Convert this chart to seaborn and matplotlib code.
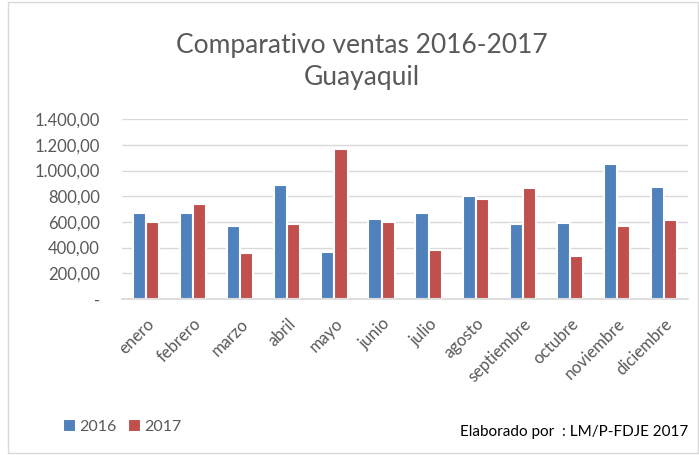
import matplotlib.pyplot as plt
import matplotlib.ticker as mticker
import pandas as pd
import seaborn as sns

meses = ["enero", "febrero", "marzo", "abril", "mayo", "junio", "julio",
         "agosto", "septiembre", "octubre", "noviembre", "diciembre"]
ventas_2016 = [673, 673, 569, 886, 366, 626, 673, 802, 580, 590, 1052, 872]
ventas_2017 = [603, 743, 356, 580, 1168, 603, 379, 779, 862, 333, 569, 615]

frame = pd.DataFrame({
    "mes": meses * 2,
    "ventas": ventas_2016 + ventas_2017,
    "anio": ["2016"] * 12 + ["2017"] * 12,
})


def miles(value, _pos):
    if value == 0:
        return "-"
    text = f"{value:,.2f}"
    return text.replace(",", "X").replace(".", ",").replace("X", ".")


sns.set_theme(style="white")
plt.rcParams["font.family"] = ["Lato", "DejaVu Sans"]

fig = plt.figure(figsize=(6.99, 4.55), dpi=100)
ax = fig.add_axes([0.175, 0.343, 0.809, 0.395])

sns.barplot(
    data=frame, x="mes", y="ventas", hue="anio",
    palette=["#4F81BD", "#C0504D"], width=0.56, saturation=1,
    edgecolor="white", linewidth=1.5, ax=ax,
)

ax.set_ylim(0, 1400)
ax.yaxis.set_major_locator(mticker.MultipleLocator(200))
ax.yaxis.set_major_formatter(mticker.FuncFormatter(miles))
ax.grid(axis="y", color="#D9D9D9", linewidth=1)
ax.set_axisbelow(True)
for side in ["left", "right", "top"]:
    ax.spines[side].set_visible(False)
ax.spines["bottom"].set_color("#D9D9D9")
ax.set_xlabel("")
ax.set_ylabel("")
ax.tick_params(axis="both", length=0, labelsize=12, labelcolor="#595959")
ax.tick_params(axis="y", pad=16)
ax.tick_params(axis="x", pad=12)
plt.setp(ax.get_xticklabels(), rotation=45, ha="right", rotation_mode="anchor")
ax.set_xlim(-0.5, 11.5)

ax.legend_.remove()
handles, labels = ax.get_legend_handles_labels()
fig.legend(handles, labels, loc="center left", bbox_to_anchor=(0.07, 0.062),
           ncol=2, frameon=False, fontsize=11.5, handlelength=0.8,
           handleheight=0.8, handletextpad=0.2, columnspacing=0.7,
           labelcolor="#595959")

fig.text(0.518, 0.90, "Comparativo ventas 2016-2017", ha="center", va="center",
         fontsize=19, color="#595959")
fig.text(0.518, 0.83, "Guayaquil", ha="center", va="center",
         fontsize=19, color="#595959")
fig.text(0.985, 0.05, "Elaborado por  : LM/P-FDJE 2017", ha="right",
         va="center", fontsize=11, color="black")

fig.patches.append(plt.Rectangle((0.012, 0.004), 0.986, 0.992,
                                 transform=fig.transFigure, fill=False,
                                 edgecolor="#D9D9D9", linewidth=1))

fig.savefig("out.png", dpi=100)
